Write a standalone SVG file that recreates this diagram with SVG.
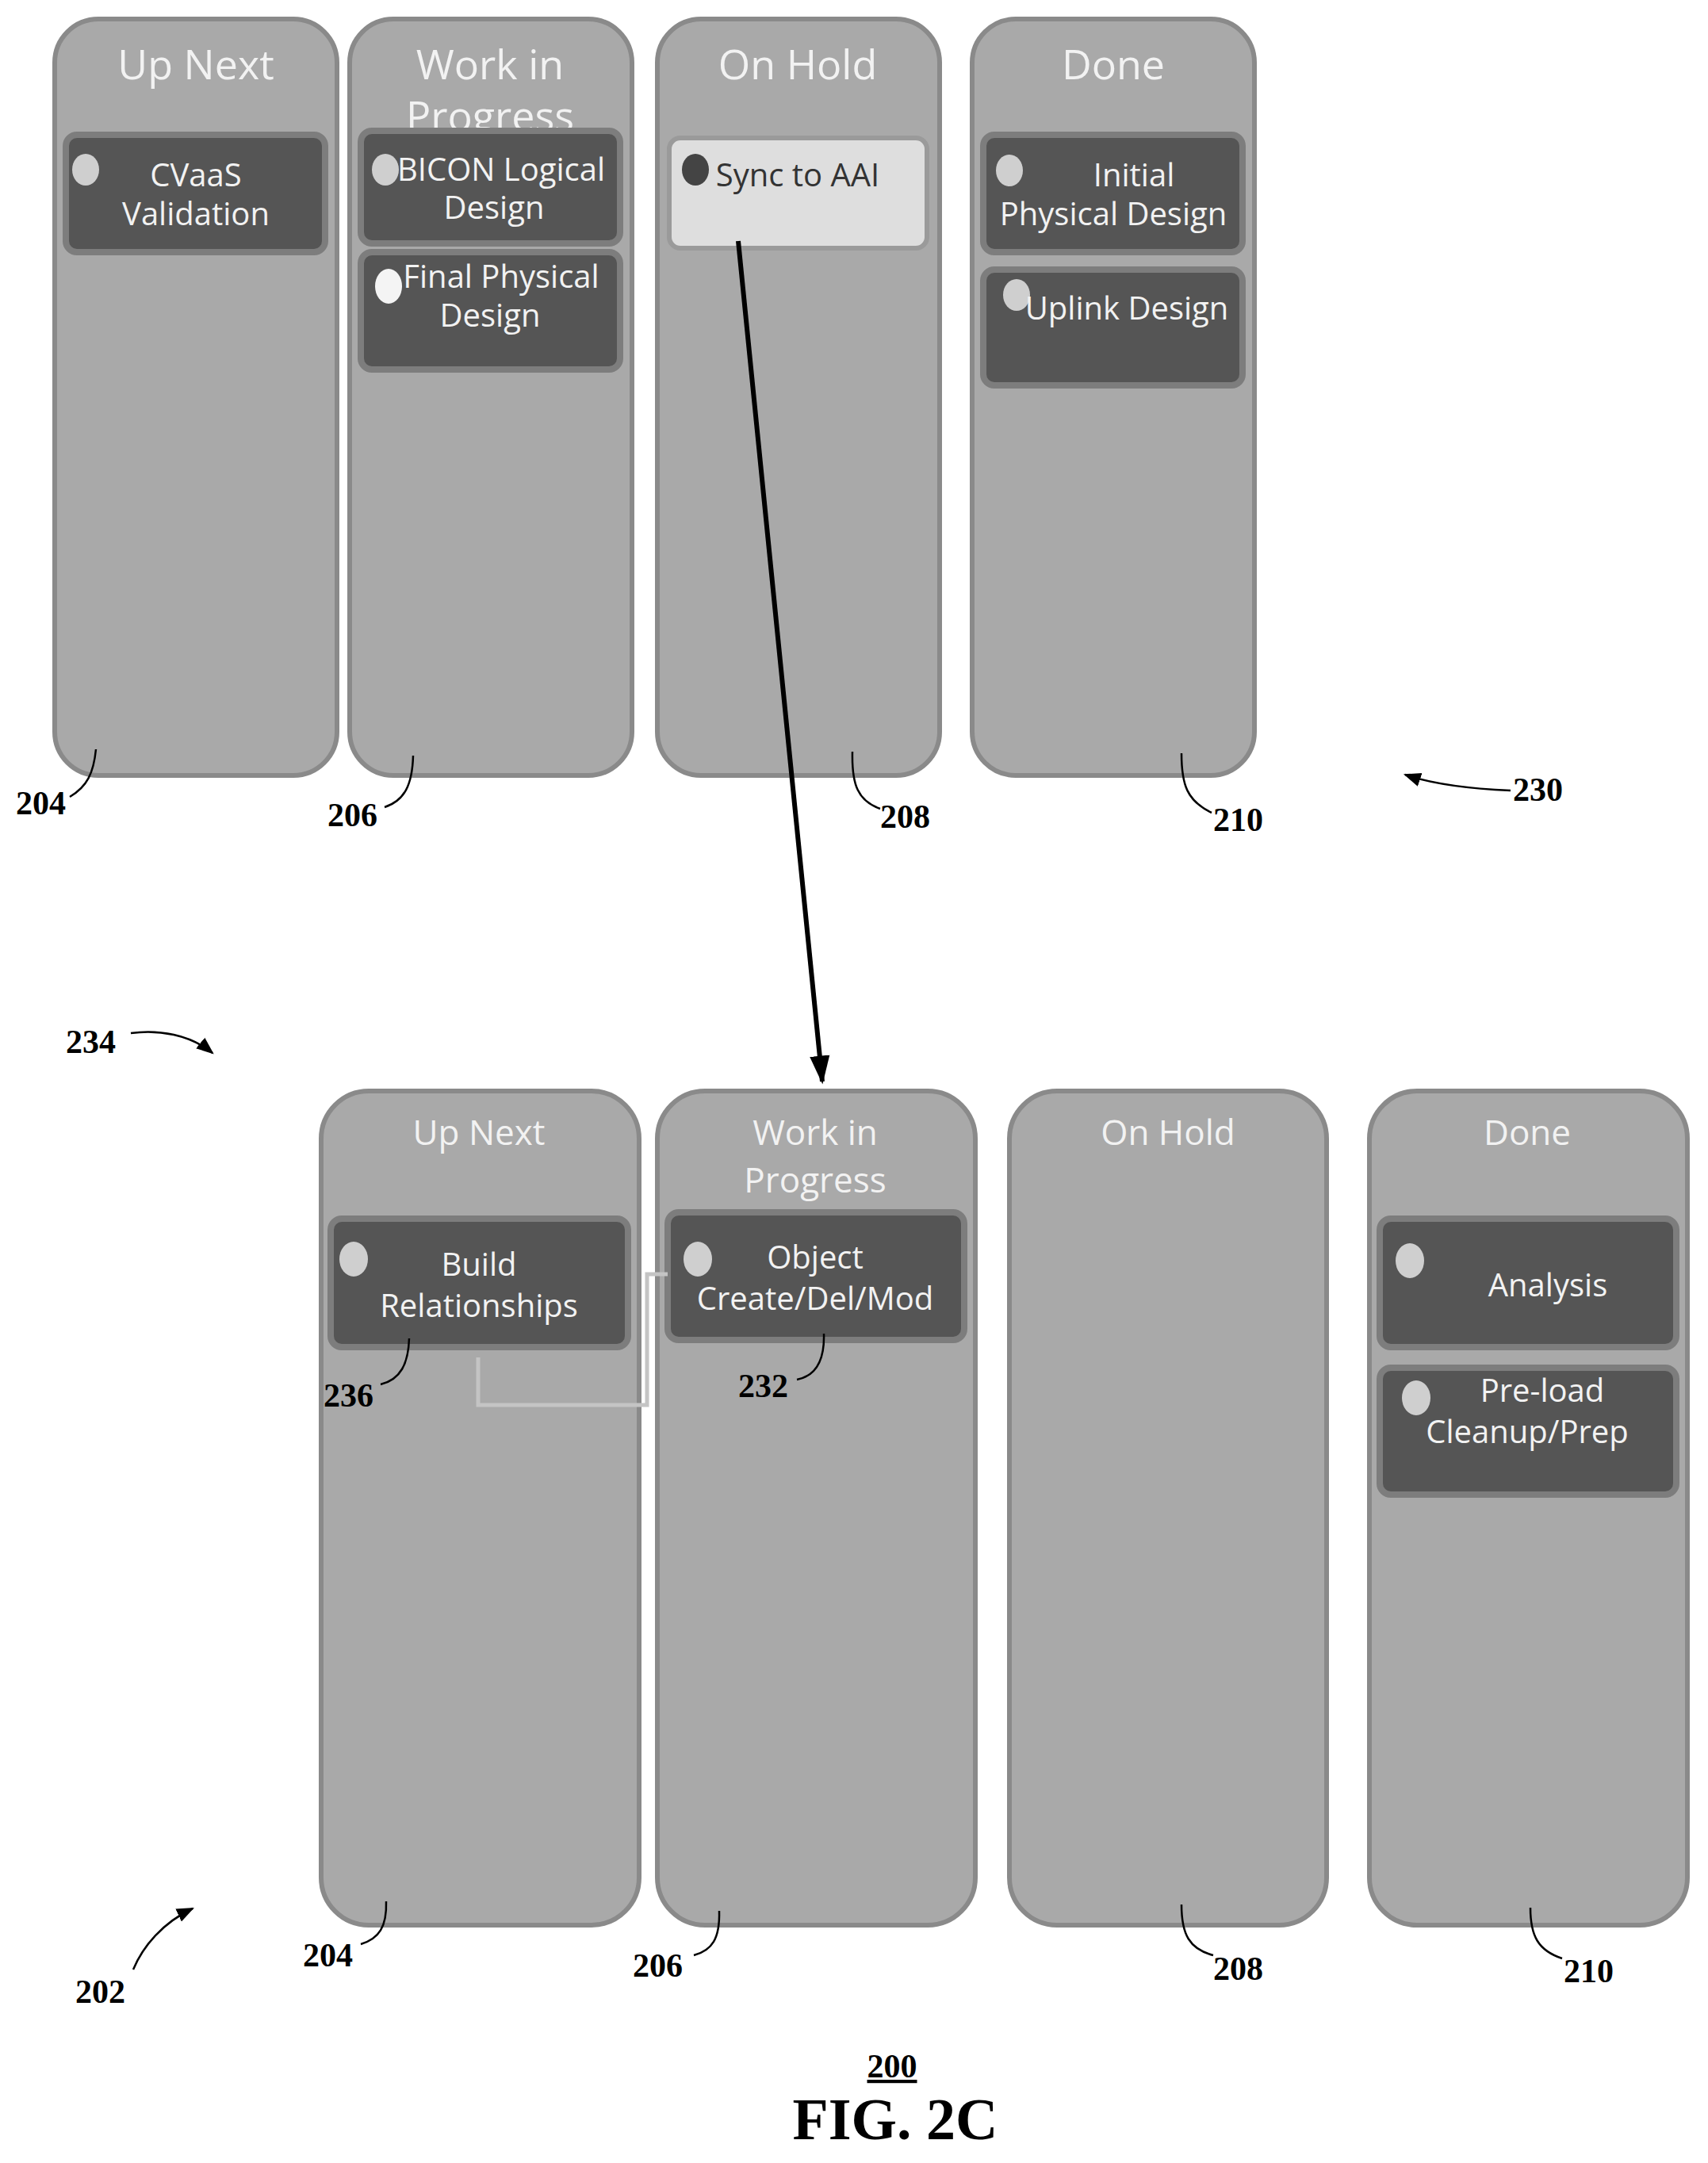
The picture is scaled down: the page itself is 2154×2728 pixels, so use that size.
<svg xmlns="http://www.w3.org/2000/svg" width="2154" height="2728" viewBox="0 0 2154 2728">
<defs>
<marker id="ah" viewBox="0 0 10 10" refX="9" refY="5" markerWidth="6" markerHeight="6" orient="auto" markerUnits="userSpaceOnUse"><path d="M0,0 L10,5 L0,10 z" fill="#000"/></marker>
<marker id="ah2" viewBox="0 0 10 10" refX="9" refY="5" markerWidth="22" markerHeight="22" orient="auto" markerUnits="userSpaceOnUse"><path d="M0,1 L10,5 L0,9 z" fill="#000"/></marker>
<marker id="big" viewBox="0 0 10 10" refX="9" refY="5" markerWidth="36" markerHeight="36" orient="auto" markerUnits="userSpaceOnUse"><path d="M0,1.5 L10,5 L0,8.5 z" fill="#000"/></marker>
</defs>
<style>
.col{fill:#a9a9a9;stroke:#8a8a8a;stroke-width:6}
.card{fill:#555;stroke:#7d7d7d;stroke-width:8}
.lcard{fill:#dedede;stroke:#9a9a9a;stroke-width:6}
.t{font-family:"Open Sans",sans-serif;fill:#f2f2f2;text-anchor:middle}
.tt{font-size:52px}
.bt{font-size:44px}
.ct{font-size:40px}
.dot{fill:#cfcfcf}
.n{font-family:"Liberation Serif",serif;font-weight:bold;font-size:42px;fill:#000}
.ld{fill:none;stroke:#000;stroke-width:2.5}
</style>
<rect width="2154" height="2728" fill="#fff"/>
<g id="top-upnext"><rect class="col" x="69" y="24" width="356" height="954" rx="55"/>
<text class="t tt" x="247" y="100">Up Next</text>
<rect class="card" x="83" y="170" width="327" height="148" rx="14"/><ellipse class="dot" cx="108" cy="214" rx="17" ry="20"/>
<text class="t ct" x="247" y="235">CVaaS</text><text class="t ct" x="247" y="284">Validation</text></g>
<g id="top-wip"><rect class="col" x="441" y="24" width="356" height="954" rx="55"/>
<text class="t tt" x="618" y="100">Work in</text><text class="t tt" x="618" y="165">Progress</text>
<rect class="card" x="455" y="165" width="327" height="142" rx="14"/><ellipse class="dot" cx="486" cy="214" rx="17" ry="20"/>
<text class="t ct" x="632" y="228">BICON Logical</text><text class="t ct" x="623" y="276">Design</text>
<rect class="card" x="455" y="318" width="327" height="148" rx="14"/><ellipse cx="490" cy="361" rx="17" ry="22" fill="#f4f4f4"/>
<text class="t ct" x="632" y="363">Final Physical</text><text class="t ct" x="618" y="412">Design</text></g>
<g id="top-onhold"><rect class="col" x="829" y="24" width="356" height="954" rx="55"/>
<text class="t tt" x="1006" y="100">On Hold</text>
<rect class="lcard" x="844" y="174" width="325" height="139" rx="14"/><ellipse cx="877" cy="214" rx="17" ry="20" fill="#444"/>
<text class="t ct" x="1006" y="235" fill="#333" style="fill:#333">Sync to AAI</text></g>
<g id="top-done"><rect class="col" x="1226" y="24" width="356" height="954" rx="55"/>
<text class="t tt" x="1404" y="100">Done</text>
<rect class="card" x="1240" y="170" width="327" height="148" rx="14"/><ellipse class="dot" cx="1273" cy="215" rx="17" ry="20"/>
<text class="t ct" x="1430" y="235">Initial</text><text class="t ct" x="1404" y="284">Physical Design</text>
<rect class="card" x="1240" y="340" width="327" height="146" rx="14"/><ellipse class="dot" cx="1282" cy="372" rx="17" ry="20"/>
<text class="t ct" x="1421" y="403">Uplink Design</text></g>

<g id="bot-upnext"><rect class="col" x="405" y="1376" width="401" height="1052" rx="60"/>
<text class="t bt" x="604" y="1444">Up Next</text>
<rect class="card" x="417" y="1537" width="375" height="162" rx="14"/><ellipse class="dot" cx="446" cy="1588" rx="18" ry="22"/>
<text class="t ct" x="604" y="1609">Build</text><text class="t ct" x="604" y="1661">Relationships</text></g>
<g id="bot-wip"><rect class="col" x="829" y="1376" width="401" height="1052" rx="60"/>
<text class="t bt" x="1028" y="1444">Work in</text><text class="t bt" x="1028" y="1504">Progress</text>
<rect class="card" x="842" y="1529" width="374" height="161" rx="14"/><ellipse class="dot" cx="880" cy="1588" rx="18" ry="22"/>
<text class="t ct" x="1028" y="1600">Object</text><text class="t ct" x="1028" y="1652">Create/Del/Mod</text></g>
<g id="bot-onhold"><rect class="col" x="1273" y="1376" width="400" height="1052" rx="60"/>
<text class="t bt" x="1473" y="1444">On Hold</text></g>
<g id="bot-done"><rect class="col" x="1727" y="1376" width="401" height="1052" rx="60"/>
<text class="t bt" x="1926" y="1444">Done</text>
<rect class="card" x="1740" y="1537" width="374" height="162" rx="14"/><ellipse class="dot" cx="1778" cy="1590" rx="18" ry="22"/>
<text class="t ct" x="1952" y="1635">Analysis</text>
<rect class="card" x="1740" y="1725" width="374" height="160" rx="14"/><ellipse class="dot" cx="1786" cy="1763" rx="18" ry="22"/>
<text class="t ct" x="1945" y="1768">Pre-load</text><text class="t ct" x="1926" y="1820">Cleanup/Prep</text></g>

<g id="connectors">
<path d="M931,304 L1037,1364" fill="none" stroke="#000" stroke-width="6" marker-end="url(#big)"/>
<path d="M603,1712 V1772 H816 V1607 H842" fill="none" stroke="#c4c4c4" stroke-width="5"/>
<path class="ld" d="M121,945 C118,975 110,992 88,1005"/>
<path class="ld" d="M521,953 C520,990 510,1010 485,1018"/>
<path class="ld" d="M1075,948 C1074,990 1082,1010 1110,1020"/>
<path class="ld" d="M1490,950 C1490,990 1497,1010 1528,1025"/>
<path class="ld" d="M1905,997 C1860,995 1810,990 1772,977" marker-end="url(#ah2)"/>
<path class="ld" d="M165,1303 C200,1298 240,1305 268,1328" marker-end="url(#ah2)"/>
<path class="ld" d="M168,2484 C180,2455 205,2425 243,2407" marker-end="url(#ah2)"/>
<path class="ld" d="M516,1688 C515,1720 505,1740 480,1746"/>
<path class="ld" d="M1039,1682 C1040,1715 1030,1735 1005,1740"/>
<path class="ld" d="M487,2398 C488,2430 478,2445 455,2452"/>
<path class="ld" d="M907,2410 C908,2445 898,2460 875,2466"/>
<path class="ld" d="M1490,2402 C1490,2440 1500,2458 1530,2466"/>
<path class="ld" d="M1930,2406 C1930,2442 1940,2460 1970,2470"/>
</g>
<g id="labels">
<text class="n" x="20" y="1027">204</text>
<text class="n" x="413" y="1042">206</text>
<text class="n" x="1110" y="1044">208</text>
<text class="n" x="1530" y="1048">210</text>
<text class="n" x="1908" y="1010">230</text>
<text class="n" x="83" y="1328">234</text>
<text class="n" x="408" y="1774">236</text>
<text class="n" x="931" y="1762">232</text>
<text class="n" x="382" y="2480">204</text>
<text class="n" x="798" y="2493">206</text>
<text class="n" x="1530" y="2497">208</text>
<text class="n" x="1972" y="2500">210</text>
<text class="n" x="95" y="2526">202</text>
<text class="n" x="1125" y="2620" text-anchor="middle" text-decoration="underline">200</text>
<text x="1129" y="2698" text-anchor="middle" font-family="Liberation Serif,serif" font-weight="bold" font-size="74">FIG. 2C</text>
</g>
</svg>
